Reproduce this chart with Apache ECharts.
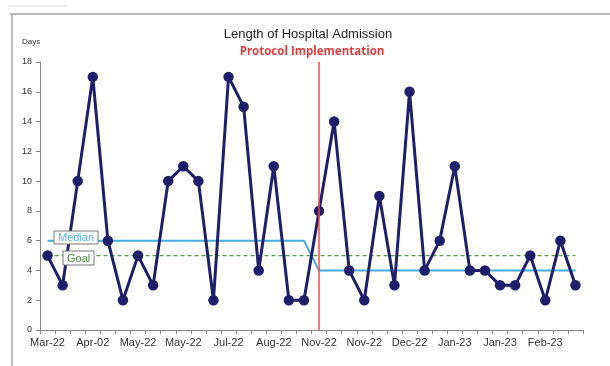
<!DOCTYPE html>
<html><head><meta charset="utf-8">
<script src="https://cdn.jsdelivr.net/npm/echarts@6/dist/echarts.min.js"></script>
<style>html,body{margin:0;padding:0;background:#fff}#c{width:610px;height:366px}</style>
</head><body><div id="c"></div>
<script>
var categories = ["Mar-22","","","Apr-02","","","May-22","","","May-22","","","Jul-22","","","Aug-22","","","Nov-22","","","Nov-22","","","Dec-22","","","Jan-23","","","Jan-23","","","Feb-23","",""];
var days = [5,3,10,17,6,2,5,3,10,11,10,2,17,15,4,11,2,2,8,14,4,2,9,3,16,4,6,11,4,4,3,3,5,2,6,3];
var median = [6,6,6,6,6,6,6,6,6,6,6,6,6,6,6,6,6,6,4,4,4,4,4,4,4,4,4,4,4,4,4,4,4,4,4,4];
var goal = [5,5,5,5,5,5,5,5,5,5,5,5,5,5,5,5,5,5,5,5,5,5,5,5,5,5,5,5,5,5,5,5,5,5,5,5];
var yTicks = [0,2,4,6,8,10,12,14,16,18];
var protocolAt = 17.5;

var chart = echarts.init(document.getElementById('c'));
chart.setOption({
  animation:false,
  title:{text:'Length of Hospital Admission',left:303,top:23,textAlign:'center',
    textStyle:{fontFamily:'Liberation Sans',fontSize:13,fontWeight:'normal',color:'#222'}},
  grid:{left:40,right:27,top:62,bottom:36},
  xAxis:{type:'category',data:categories,boundaryGap:true,
    axisLine:{lineStyle:{color:'#888'}},
    axisTick:{show:true,interval:0,lineStyle:{color:'#888'},length:4},
    axisLabel:{interval:0,color:'#333',fontFamily:'Liberation Sans',fontSize:11,margin:7},
    splitLine:{show:false}},
  yAxis:{type:'value',min:0,max:18,interval:2,
    axisLine:{show:true,lineStyle:{color:'#888'}},
    axisTick:{show:true,lineStyle:{color:'#888'},length:4},
    axisLabel:{color:'#333',fontFamily:'Liberation Sans',fontSize:9,margin:8,
      formatter:function(v){return yTicks.indexOf(v)>=0?String(v):'';}},
    splitLine:{show:false}},
  graphic:[
    {type:'line',shape:{x1:10,y1:14,x2:610,y2:14},style:{stroke:'#bbb',lineWidth:2}},
    {type:'line',shape:{x1:12,y1:14,x2:12,y2:366},style:{stroke:'#bbb',lineWidth:2}},
    {type:'line',shape:{x1:8,y1:6,x2:68,y2:6},style:{stroke:'#ddd',lineWidth:1}},
    {type:'text',left:22,top:38,style:{text:'Days',fontFamily:'Liberation Sans',fontSize:8,fill:'#333'}},
    {type:'text',x:312,y:46,style:{text:'Protocol Implementation',align:'center',textAlign:'center',fontFamily:'Open Sans',fontWeight:'bold',fontSize:11.5,fill:'#e23c3c'}},
    {type:'rect',shape:{x:54,y:231,width:44,height:13},style:{fill:'#fff',stroke:'#777',lineWidth:1},z:100},
    {type:'text',left:58,top:232,style:{text:'Median',fontFamily:'Liberation Sans',fontSize:11,fill:'#5ab4e0'},z:101},
    {type:'rect',shape:{x:63,y:251,width:31,height:14},style:{fill:'#fff',stroke:'#777',lineWidth:1},z:100},
    {type:'text',left:67,top:253,style:{text:'Goal',fontFamily:'Liberation Sans',fontSize:11,fill:'#4a8a3a'},z:101}
  ],
  series:[
    {name:'Goal',type:'line',data:goal,symbol:'none',z:2,
      lineStyle:{color:'#5a9a40',width:1.2,type:[4,3]}},
    {name:'Median',type:'line',data:median,symbol:'none',z:3,
      lineStyle:{color:'#45ace0',width:2}},
    {name:'Days',type:'line',data:days,symbol:'circle',symbolSize:10.5,z:4,
      lineStyle:{color:'#1e1f6b',width:3},itemStyle:{color:'#1e1f6b'},
      markLine:{symbol:'none',silent:true,label:{show:false},
        lineStyle:{color:'#ec4b45',width:1.5,type:'solid'},
        data:[{xAxis:protocolAt}]}}
  ]
});
</script></body></html>
